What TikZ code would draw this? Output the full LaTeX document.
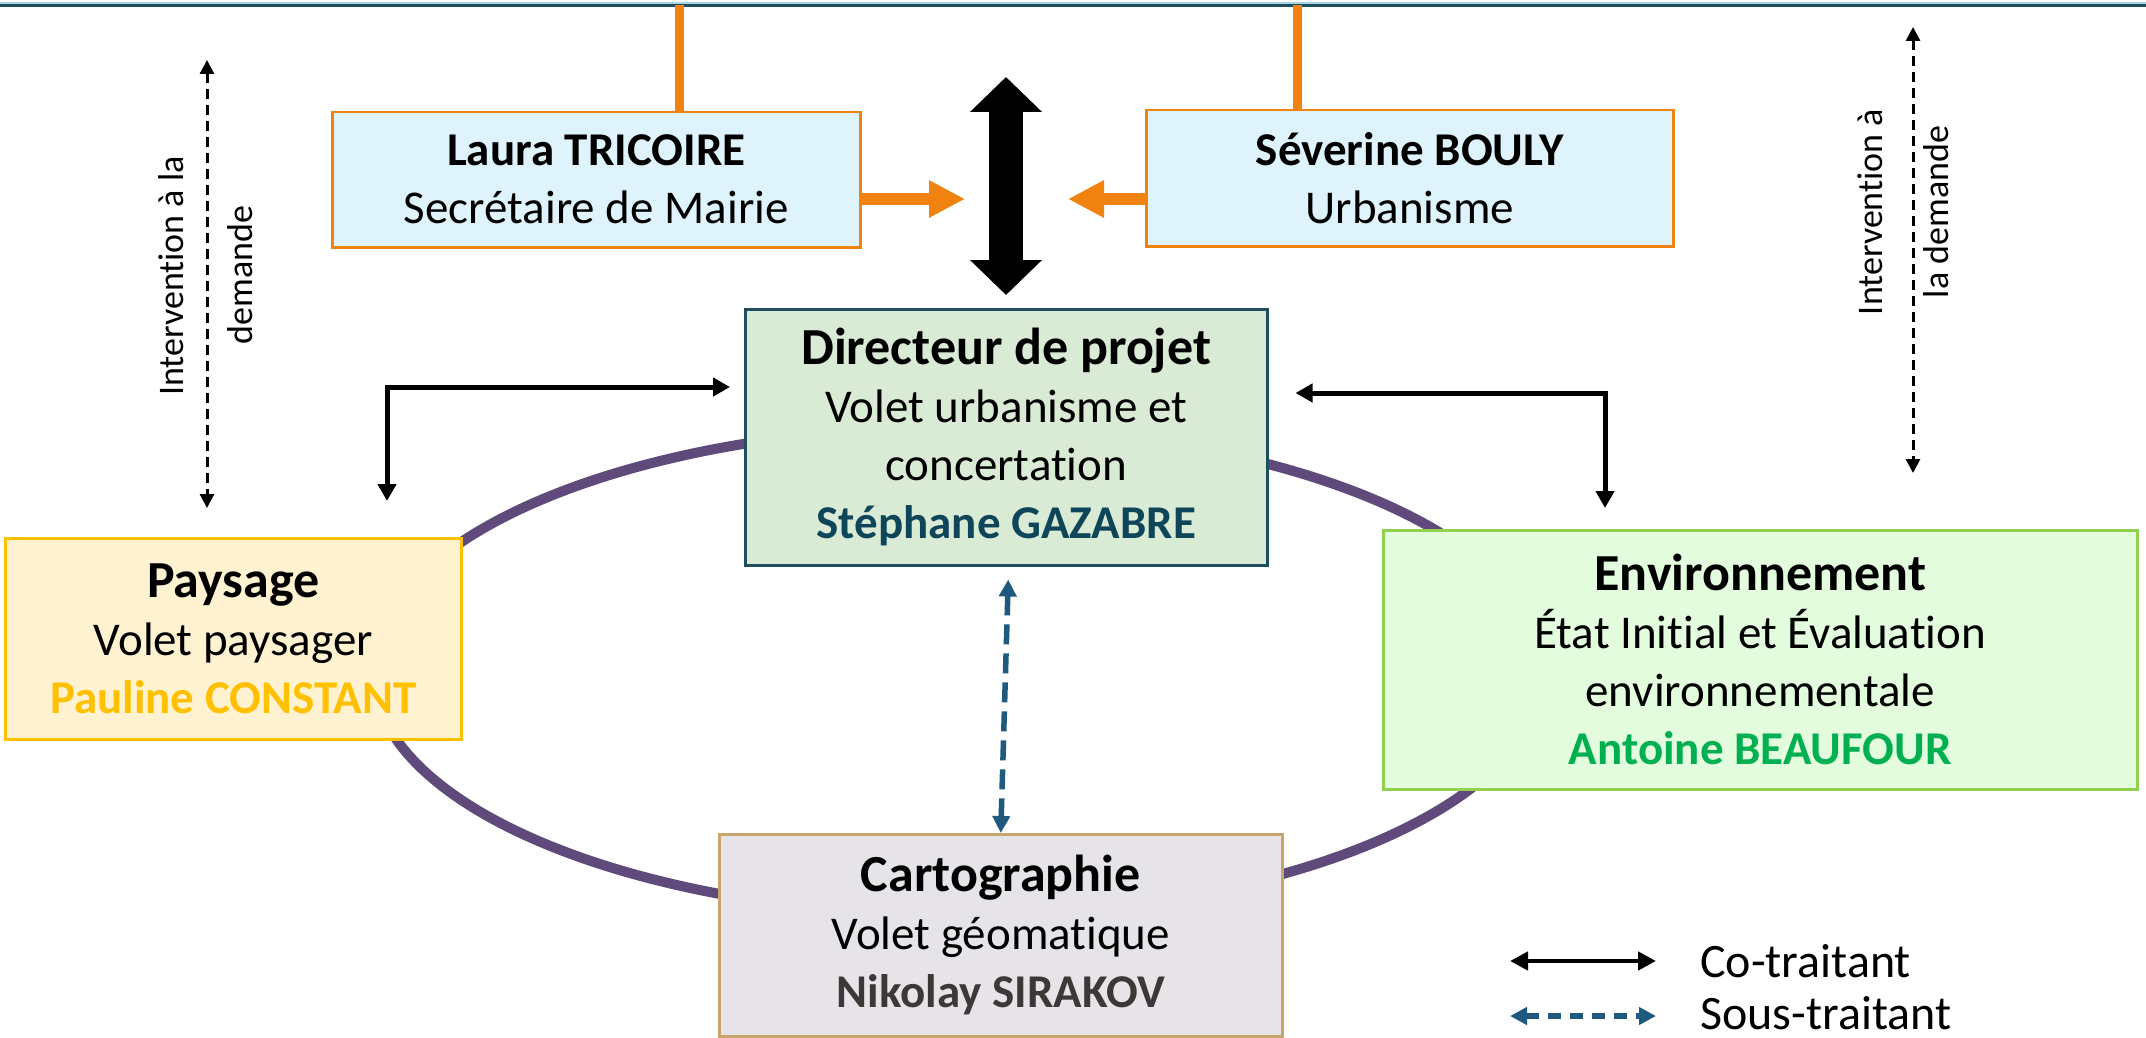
\documentclass[tikz,border=0pt]{standalone}
\usepackage{fontspec}
\setmainfont[Ligatures=NoCommon]{Carlito}
\usetikzlibrary{arrows.meta}
\definecolor{orng}{HTML}{F0820F}
\definecolor{topdark}{HTML}{1F4E5F}
\definecolor{toplight}{HTML}{A9D3E6}
\definecolor{lblue}{HTML}{DFF3FC}
\definecolor{dirfill}{HTML}{D9EAD5}
\definecolor{dirline}{HTML}{1F4E5F}
\definecolor{dirname}{HTML}{0E4558}
\definecolor{payfill}{HTML}{FFF2D0}
\definecolor{payline}{HTML}{FFC000}
\definecolor{envfill}{HTML}{E3FCDD}
\definecolor{envline}{HTML}{92D050}
\definecolor{envname}{HTML}{00B050}
\definecolor{carfill}{HTML}{E6E4E8}
\definecolor{carline}{HTML}{C9A56B}
\definecolor{carname}{HTML}{3B3838}
\definecolor{ellcol}{HTML}{604A7B}
\definecolor{subcol}{HTML}{1F5A7E}
\tikzset{
  box/.style={draw, line width=2.5pt, anchor=north west, align=center, inner sep=0pt,
    font=\fontsize{47}{58}\selectfont},
  cot/.style={line width=5pt, {Triangle[width=18pt,length=17pt]}-{Triangle[width=18pt,length=17pt]}},
  subt/.style={subcol, line width=5.5pt, dash pattern=on 20pt off 9pt,
    {Triangle[width=17pt,length=17pt]}-{Triangle[width=17pt,length=17pt]}},
  interv/.style={line width=3pt, dash pattern=on 10pt off 6pt,
    {Triangle[width=14pt,length=14pt]}-{Triangle[width=14pt,length=14pt]}},
  orl/.style={orng, line width=9pt},
  ora/.style={orng, line width=12pt, -{Triangle[width=35pt,length=36pt]}},
  vtext/.style={rotate=90, anchor=base, inner sep=0pt, font=\fontsize{36}{44}\selectfont},
  legtext/.style={anchor=base west, inner sep=0pt, font=\fontsize{48}{58}\selectfont}
}
\newcommand{\ttlfont}{\fontsize{52}{58}\selectfont\bfseries}
\begin{document}
\begin{tikzpicture}[x=1pt,y=-1pt]
\useasboundingbox (0,0) rectangle (2146,1038);
\fill[white] (0,0) rectangle (2146,1038);

% top line
\draw[toplight, line width=2pt] (0,3) -- (2146,3);
\draw[topdark, line width=2.5pt] (0,5.5) -- (2146,5.5);

% ellipse
\draw[ellcol, line width=10pt] (958,671) ellipse [x radius=585, y radius=244];

% coordinates
\coordinate (tl) at (679,5);
\coordinate (tr) at (1297,5);
\coordinate (bA) at (1006,77);
\coordinate (bB) at (1006,295);
\coordinate (oa1) at (965,199);
\coordinate (oa2) at (1068,199);
\coordinate (c1) at (387,387);
\coordinate (c2) at (1605,393);
\coordinate (i1a) at (207,60);
\coordinate (i1b) at (207,508);
\coordinate (i2a) at (1913,27);
\coordinate (i2b) at (1913,473);
\coordinate (lg1) at (1510,961);
\coordinate (lg2) at (1656,961);
\coordinate (lg3) at (1510,1016);
\coordinate (lg4) at (1656,1016);

% boxes
\node[box, fill=lblue, draw=orng, minimum width=528pt, minimum height=135pt] (lau) at (331,111)
  {{\bfseries Laura TRICOIRE}\\Secrétaire de Mairie};
\node[box, fill=lblue, draw=orng, minimum width=527pt, minimum height=136pt] (sev) at (1145,109)
  {{\bfseries Séverine BOULY}\\Urbanisme};
\node[box, fill=dirfill, draw=dirline, minimum width=522pt, minimum height=256pt] (dir) at (744,308)
  {{\ttlfont Directeur de projet}\\Volet urbanisme et\\concertation\\{\bfseries\color{dirname}Stéphane GAZABRE}};
\node[box, fill=payfill, draw=payline, minimum width=456pt, minimum height=201pt] (pay) at (4,537)
  {{\ttlfont Paysage}\\Volet paysager\\{\bfseries\color{payline}Pauline CONSTANT}};
\node[box, fill=envfill, draw=envline, minimum width=754pt, minimum height=259pt] (env) at (1382,529)
  {{\ttlfont Environnement}\\État Initial et Évaluation\\environnementale\\{\bfseries\color{envname}Antoine BEAUFOUR}};
\node[box, fill=carfill, draw=carline, minimum width=563pt, minimum height=202pt] (car) at (718,833)
  {{\ttlfont Cartographie}\\Volet géomatique\\{\bfseries\color{carname}Nikolay SIRAKOV}};

% orange links
\draw[orl] (lau.north -| tl) -- (tl);
\draw[orl] (sev.north -| tr) -- (tr);
\draw[ora] (lau.east |- oa1) -- (oa1);
\draw[ora] (sev.west |- oa2) -- (oa2);

% big black double arrow
\draw[line width=34pt, {Triangle[width=70pt,length=35pt]}-{Triangle[width=70pt,length=35pt]}] (bA) -- (bB);

% co-traitant arrows
\draw[cot] ([xshift=-14pt]dir.west |- c1) -- (c1) -- ([yshift=36pt]pay.north -| c1);
\draw[cot] ([xshift=27pt]dir.east |- c2) -- (c2) -- ([yshift=21pt]env.north -| c2);

% sous-traitant
\draw[subt] ([xshift=2pt,yshift=-13pt]dir.south) -- (car.north);

% intervention arrows
\draw[interv] (i1a) -- (i1b);
\draw[interv] (i2a) -- (i2b);
\node[vtext] (v1) at (183,276) {Intervention à la};
\node[vtext] (v2) at (252,275) {demande};
\node[vtext] (v3) at (1882,212) {Intervention à};
\node[vtext] (v4) at (1948,212) {la demande};

% legend
\draw[line width=4.5pt, {Triangle[width=18pt,length=18pt]}-{Triangle[width=18pt,length=18pt]}] (lg1) -- (lg2);
\draw[subcol, line width=6pt, dash pattern=on 13pt off 9pt, {Triangle[width=17pt,length=17pt]}-{Triangle[width=17pt,length=17pt]}] (lg3) -- (lg4);
\node[legtext] (l1) at (1700,977) {Co-traitant};
\node[legtext] (l2) at (1700,1029) {Sous-traitant};
\end{tikzpicture}
\end{document}
